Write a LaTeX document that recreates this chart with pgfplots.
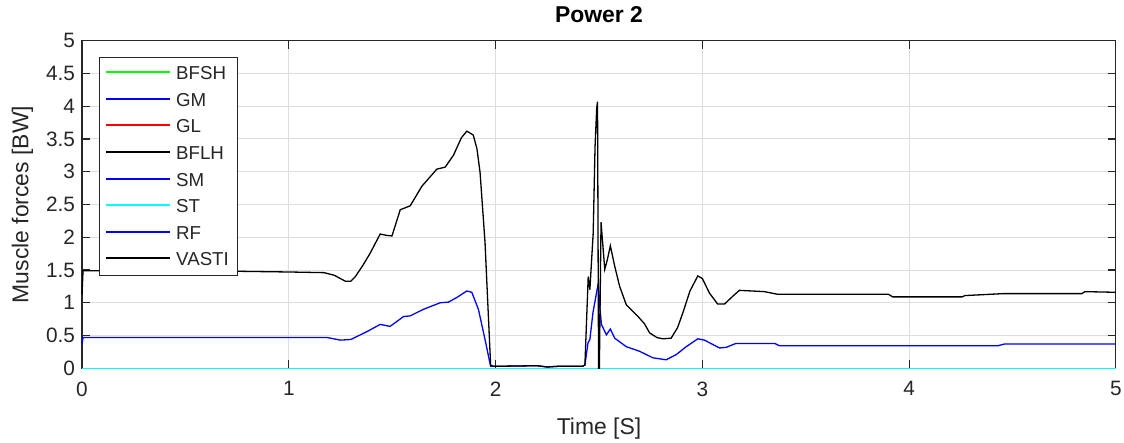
\documentclass[border=0pt]{standalone}
\usepackage{pgfplots}
\pgfplotsset{compat=1.18}
\usepackage{fontspec}
\setmainfont{Liberation Sans}
\definecolor{axgray}{RGB}{38,38,38}
\definecolor{gridgray}{RGB}{222,222,222}
\definecolor{mgreen}{RGB}{0,255,0}
\definecolor{mblue}{RGB}{0,0,255}
\definecolor{mred}{RGB}{255,0,0}
\definecolor{mcyan}{RGB}{0,255,255}
\begin{document}
\begin{tikzpicture}
\begin{axis}[
  at={(0,0)}, anchor=south west,
  scale only axis, width=1034pt, height=327.6pt,
  xmin=0, xmax=5, ymin=0, ymax=5,
  clip=false,
  xtick={0,1,2,3,4,5},
  xticklabels={0,1,2,3,4,5},
  ytick={0,0.5,1,1.5,2,2.5,3,3.5,4,4.5,5},
  yticklabels={0,0.5,1,1.5,2,2.5,3,3.5,4,4.5,5},
  tick pos=both, tick align=inside,
  major tick length=8pt,
  grid=major,
  major grid style={gridgray, line width=1pt},
  axis line style={axgray, line width=1.1pt},
  every tick/.style={axgray, line width=1.1pt},
  tick label style={font=\fontsize{20.8}{24}\selectfont, text=axgray},
  xticklabel style={yshift=-9.8pt},
  yticklabel style={xshift=-3.4pt},
  title={\bfseries Power 2},
  title style={at={(axis description cs:0.5,1)}, anchor=base, yshift=12.4pt, font=\fontsize{22.9}{26}\selectfont},
  xlabel={Time [S]},
  xlabel style={at={(axis description cs:0.5,0)}, anchor=base, yshift=-65.7pt, font=\fontsize{22.9}{26}\selectfont, text=axgray},
  ylabel={Muscle forces [BW]},
  ylabel style={at={(axis description cs:0,0.5)}, anchor=base, yshift=53.7pt, font=\fontsize{22.9}{26}\selectfont, text=axgray},
  every axis plot/.append style={line width=1.3pt},
]
\addplot[mgreen] coordinates {(0,0) (5,0)};
\addplot[mblue] coordinates {(0,0) (5,0)};
\addplot[mred] coordinates {(0,0) (5,0)};
\addplot[black] coordinates {(0,0) (5,0)};
\addplot[mblue] coordinates {(0,0) (5,0)};
\addplot[mcyan] coordinates {(0,0) (5,0)};
\addplot[mblue] coordinates {
(0,0.37) (0.005,0.47) (0.5,0.47) (1.0,0.47) (1.185,0.47) (1.25,0.43) (1.30,0.44)
(1.378,0.56) (1.442,0.67) (1.49,0.64) (1.555,0.79) (1.587,0.80) (1.651,0.90)
(1.732,1.00) (1.772,1.01) (1.812,1.08) (1.861,1.18) (1.885,1.16) (1.917,0.90)
(1.949,0.44) (1.976,0.03) (2.0,0.03) (2.2,0.04) (2.25,0.02) (2.3,0.03) (2.42,0.03)
(2.432,0.05) (2.447,0.39) (2.456,0.44) (2.471,0.85) (2.488,1.15) (2.497,1.30)
(2.505,0.90) (2.512,0.67) (2.536,0.51) (2.555,0.60) (2.576,0.46) (2.632,0.33)
(2.696,0.26) (2.761,0.16) (2.825,0.13) (2.874,0.21) (2.922,0.33) (2.978,0.45)
(3.01,0.43) (3.083,0.31) (3.115,0.32) (3.163,0.38) (3.35,0.38) (3.372,0.345)
(4.43,0.345) (4.46,0.37) (5.0,0.37)
};
\addplot[black] coordinates {
(0,1.12) (0.005,1.49) (0.1,1.49) (0.3,1.48) (0.5,1.48) (0.77,1.48) (1.0,1.47)
(1.17,1.46) (1.22,1.42) (1.273,1.33) (1.30,1.33) (1.322,1.40) (1.36,1.58)
(1.394,1.76) (1.442,2.05) (1.47,2.03) (1.499,2.02) (1.539,2.42) (1.587,2.48)
(1.644,2.78) (1.716,3.04) (1.756,3.07) (1.796,3.25) (1.835,3.52) (1.861,3.62)
(1.892,3.56) (1.91,3.35) (1.925,2.99) (1.949,1.92) (1.976,0.05) (1.99,0.03)
(2.0,0.03) (2.2,0.04) (2.25,0.02) (2.3,0.03) (2.42,0.03) (2.432,0.05)
(2.448,1.40) (2.456,1.20) (2.472,2.06) (2.481,3.38) (2.489,3.97) (2.493,4.07)
(2.498,0.0) (2.502,0.0) (2.51,2.23) (2.528,1.51) (2.54,1.65) (2.555,1.87)
(2.576,1.56) (2.60,1.25) (2.632,0.97) (2.689,0.79) (2.72,0.68) (2.745,0.54)
(2.78,0.47) (2.809,0.45) (2.849,0.46) (2.88,0.62) (2.906,0.85) (2.94,1.18)
(2.978,1.41) (3.0,1.37) (3.034,1.15) (3.074,0.98) (3.107,0.98) (3.147,1.10)
(3.179,1.19) (3.30,1.17) (3.364,1.13) (3.9,1.13) (3.92,1.09) (4.256,1.09)
(4.27,1.11) (4.457,1.14) (4.835,1.14) (4.85,1.17) (5.0,1.16)
};
\end{axis}
% legend
\draw[axgray, line width=1pt, fill=white] (17.3pt,92.3pt) rectangle (155.3pt,310.6pt);
\foreach \y/\c/\t in {295.8/mgreen/BFSH, 268.8/mblue/GM, 242.8/mred/GL, 215.8/black/BFLH, 188.8/mblue/SM, 162.8/mcyan/ST, 135.8/mblue/RF, 109.8/black/VASTI}{
  \draw[\c, line width=2pt] (24pt,\y pt) -- (88pt,\y pt);
  \node[anchor=base west, inner sep=0pt, font=\fontsize{18.7}{22}\selectfont, text=axgray] at (94pt,\y pt-6.7pt) {\t};
}
\pgfresetboundingbox
\path[use as bounding box] (-82pt,-73.7pt) rectangle (1042pt,368.3pt);
\end{tikzpicture}
\end{document}
